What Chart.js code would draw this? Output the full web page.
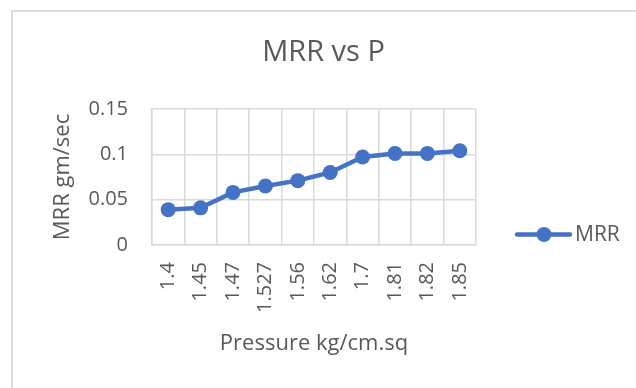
<!DOCTYPE html>
<html>
<head>
<meta charset="utf-8">
<script src="https://cdn.jsdelivr.net/npm/chart.js@4"></script>
<style>
  html, body { margin: 0; padding: 0; background: #ffffff; }
  #wrap { position: relative; width: 636px; height: 388px; overflow: hidden; }
  #frame {
    position: absolute; left: 11px; top: 10px; width: 700px; height: 500px;
    border-left: 2px solid #dcdcdc; border-top: 2px solid #dcdcdc;
    box-sizing: border-box; pointer-events: none;
  }
  canvas { position: absolute; left: 0; top: 0; }
</style>
</head>
<body>
<div id="wrap">
  <div id="frame"></div>
  <canvas id="c" width="636" height="388"></canvas>
</div>
<script>
// Pressure (kg/cm.sq) categories and measured material removal rate
const pressureLabels = ['1.4', '1.45', '1.47', '1.527', '1.56', '1.62', '1.7', '1.81', '1.82', '1.85'];
const mrrValues = [0.039, 0.041, 0.058, 0.065, 0.071, 0.080, 0.097, 0.101, 0.101, 0.104];
const yTickValues = [0, 0.05, 0.1, 0.15];
const yTickLabels = ['0', '0.05', '0.1', '0.15'];

const TEXT = '#595959';
const GRID = '#d9d9d9';
const BLUE = '#4472C4';
const FONT = "'Open Sans', sans-serif";

// Legend entry drawn as a line with a marker, to the right of the plot
const lineLegend = {
  id: 'lineLegend',
  afterDraw(chart) {
    const ctx = chart.ctx;
    const ds = chart.data.datasets[0];
    const x0 = chart.chartArea.right + 41;
    const y = 234.5;
    ctx.save();
    ctx.strokeStyle = ds.borderColor;
    ctx.lineWidth = ds.borderWidth;
    ctx.lineCap = 'round';
    ctx.beginPath();
    ctx.moveTo(x0, y);
    ctx.lineTo(x0 + 53, y);
    ctx.stroke();
    ctx.fillStyle = ds.pointBackgroundColor;
    ctx.beginPath();
    ctx.arc(x0 + 27, y, ds.pointRadius, 0, Math.PI * 2);
    ctx.fill();
    ctx.fillStyle = TEXT;
    ctx.font = '21px ' + FONT;
    ctx.textBaseline = 'middle';
    ctx.textAlign = 'left';
    ctx.fillText(ds.label, x0 + 58, y + 1);
    ctx.restore();
  }
};

new Chart(document.getElementById('c'), {
  type: 'line',
  data: {
    labels: pressureLabels,
    datasets: [{
      label: 'MRR',
      data: mrrValues,
      borderColor: BLUE,
      borderWidth: 4.5,
      pointRadius: 7.5,
      pointHoverRadius: 7.5,
      pointBackgroundColor: BLUE,
      pointBorderWidth: 0,
      tension: 0,
      yAxisID: 'y'
    }]
  },
  options: {
    responsive: false,
    devicePixelRatio: 1,
    animation: false,
    layout: { padding: { left: 11, top: 0, right: 0, bottom: 0 } },
    plugins: {
      legend: { display: false },
      tooltip: { enabled: false },
      title: {
        display: true,
        text: 'MRR vs P',
        color: TEXT,
        font: { family: FONT, size: 29, weight: 'normal' },
        padding: { top: 35.6, bottom: 38.6 }
      }
    },
    scales: {
      x: {
        type: 'category',
        offset: true,
        grid: { display: true, offset: true, color: GRID, lineWidth: 1.5, drawTicks: false },
        border: { display: true, color: GRID, width: 1.5 },
        ticks: {
          color: TEXT,
          font: { family: FONT, size: 20 },
          minRotation: 90,
          maxRotation: 90,
          autoSkip: false,
          padding: 17
        },
        title: {
          display: true,
          text: 'Pressure kg/cm.sq',
          color: TEXT,
          font: { family: FONT, size: 22 },
          padding: { top: 0, bottom: 30.8 }
        },
        afterFit(scale) { scale.height = 143; }
      },
      y: {
        type: 'linear',
        position: 'left',
        min: 0,
        max: 0.15,
        afterBuildTicks(scale) {
          scale.ticks = yTickValues.map(v => ({ value: v }));
        },
        grid: { color: GRID, lineWidth: 1.5, drawTicks: false },
        border: { display: true, color: GRID, width: 1.5 },
        ticks: {
          color: TEXT,
          font: { family: FONT, size: 20 },
          padding: 24,
          callback(value, index) { return yTickLabels[index]; }
        },
        title: {
          display: true,
          text: 'MRR gm/sec',
          color: TEXT,
          font: { family: FONT, size: 22 },
          padding: { top: 38.8, bottom: 0 }
        },
        afterFit(scale) { scale.width = 141; }
      },
      legendSpace: {
        type: 'linear',
        position: 'right',
        display: true,
        grid: { display: false, drawTicks: false },
        border: { display: false },
        ticks: { display: false },
        afterFit(scale) { scale.width = 160; }
      }
    }
  },
  plugins: [lineLegend]
});
</script>
</body>
</html>
